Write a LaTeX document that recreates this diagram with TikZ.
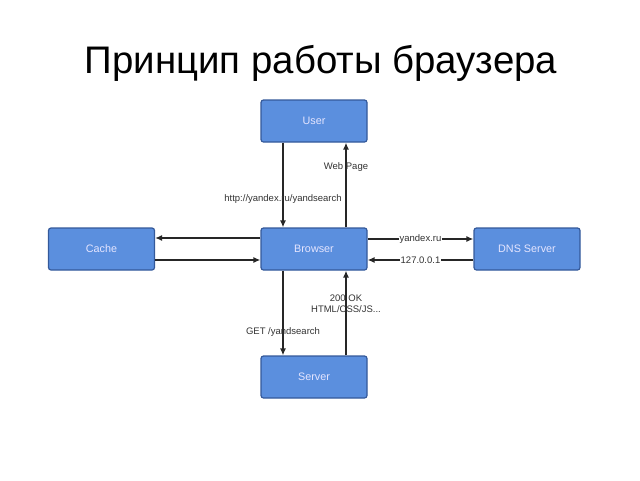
\documentclass[tikz,border=0pt]{standalone}
\usepackage{fontspec}
\setmainfont{Liberation Sans}
\usetikzlibrary{arrows.meta}
\definecolor{boxfill}{HTML}{5B8FDE}
\definecolor{boxdraw}{HTML}{34599A}
\definecolor{lbl}{HTML}{333333}
\tikzset{
  box/.style={draw=boxdraw, line width=1.2pt, fill=boxfill, rounded corners=2.5pt,
    minimum width=106pt, minimum height=42pt, inner sep=0pt,
    text=white!90!blue, font=\fontsize{10.8}{12}\selectfont},
  arr/.style={draw=black!85, line width=1.3pt, -{Latex[length=7pt,width=6pt]}},
  lab/.style={text=lbl, font=\fontsize{9.5}{11.5}\selectfont, inner sep=1pt},
  labbg/.style={lab, fill=white}
}
\begin{document}
\begin{tikzpicture}[x=1pt,y=-1pt]
\useasboundingbox (0,0) rectangle (640,480);
\node (title) at (321,63) {\fontsize{38.4}{42}\selectfont Принцип работы браузера};
\node[box] (user) at (314,121) {User};
\node[box] (cache) at (101.5,249) {Cache};
\node[box] (browser) at (314,249) {Browser};
\node[box] (dns) at (527,249) {DNS Server};
\node[box] (server) at (314,377) {Server};
% user <-> browser
\draw[arr] ([xshift=-31pt]user.south) -- node[lab,pos=0.66]{http://yandex.ru/yandsearch} ([xshift=-31pt]browser.north);
\draw[arr] ([xshift=32pt]browser.north) -- node[lab,pos=0.71]{Web Page} ([xshift=32pt]user.south);
% cache
\draw[arr] ([yshift=11pt]browser.west) -- ([yshift=11pt]cache.east);
\draw[arr] ([yshift=-11pt]cache.east) -- ([yshift=-11pt]browser.west);
% dns
\draw[arr] ([yshift=10pt]browser.east) -- node[labbg,pos=0.5]{yandex.ru} ([yshift=10pt]dns.west);
\draw[arr] ([yshift=-11pt]dns.west) -- node[labbg,pos=0.5]{127.0.0.1} ([yshift=-11pt]browser.east);
% server
\draw[arr] ([xshift=-31pt]browser.south) -- node[lab,pos=0.73]{GET /yandsearch} ([xshift=-31pt]server.north);
\draw[arr] ([xshift=32pt]server.north) -- node[lab,pos=0.61,align=center]{200 OK\\HTML/CSS/JS...} ([xshift=32pt]browser.south);
\end{tikzpicture}
\end{document}
